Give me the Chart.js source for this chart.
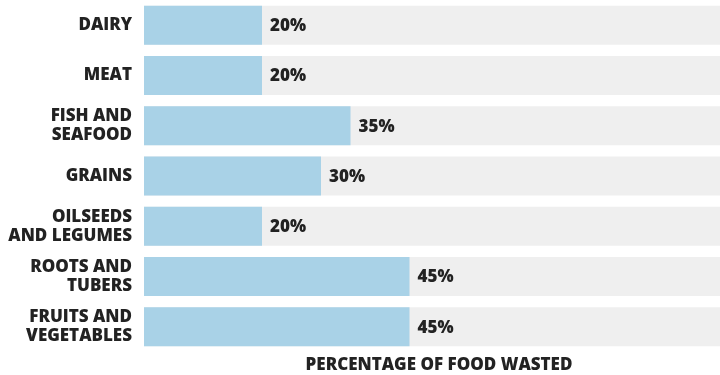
<!DOCTYPE html>
<html><head><meta charset="utf-8">
<script src="https://cdn.jsdelivr.net/npm/chart.js@4/dist/chart.umd.min.js"></script>
<style>
html,body{margin:0;padding:0;background:#fff;overflow:hidden;width:720px;height:375px;}
#wrap{position:relative;width:734px;height:375px;}
</style></head>
<body><div id="wrap"><canvas id="c" width="734" height="375"></canvas></div>
<script>
const categories = [["DAIRY"],["MEAT"],["FISH AND","SEAFOOD"],["GRAINS"],["OILSEEDS","AND LEGUMES"],["ROOTS AND","TUBERS"],["FRUITS AND","VEGETABLES"]];
const wastedPct = [20,20,35,30,20,45,45];
const trackMax = [100,100,100,100,100,100,100];
const axisTitle = "PERCENTAGE OF FOOD WASTED";

const FONT = "'Open Sans', sans-serif";
const WEIGHT = '800';
const valueLabels = {
  id:'valueLabels',
  afterDatasetsDraw(chart){
    const ctx = chart.ctx;
    const meta = chart.getDatasetMeta(0);
    ctx.save();
    ctx.font = WEIGHT + " 17px " + FONT;
    ctx.fillStyle = "#222";
    ctx.textBaseline = "middle";
    ctx.textAlign = "left";
    meta.data.forEach((bar,i)=>{
      ctx.fillText(wastedPct[i] + "%", bar.x + 8, bar.y + 1);
    });
    ctx.restore();
  }
};

new Chart(document.getElementById('c'),{
  type:'bar',
  data:{labels:categories,datasets:[
    {data:wastedPct,backgroundColor:'#a9d2e7',barPercentage:0.775,categoryPercentage:1,grouped:false},
    {data:trackMax,backgroundColor:'#efefef',barPercentage:0.775,categoryPercentage:1,grouped:false}
  ]},
  options:{
    indexAxis:'y',
    responsive:false,
    animation:false,
    events:[],
    layout:{padding:0},
    plugins:{legend:{display:false},tooltip:{enabled:false}},
    scales:{
      x:{min:0,max:100,grid:{display:false,drawTicks:false},border:{display:false},ticks:{display:false},
        title:{display:true,text:axisTitle,color:'#222',font:{family:FONT,size:17,weight:WEIGHT},padding:{top:2,bottom:0}},
        afterFit(s){s.height=23;s.paddingLeft=0;s.paddingRight=0;}
      },
      y:{grid:{display:false,drawTicks:false},border:{display:false},
        ticks:{color:'#222',font:{family:FONT,size:17,weight:WEIGHT,lineHeight:1.13},padding:12,autoSkip:false},
        afterFit(s){s.width=144;s.paddingTop=0;s.paddingBottom=0;}
      }
    }
  },
  plugins:[valueLabels]
});
</script></body></html>
